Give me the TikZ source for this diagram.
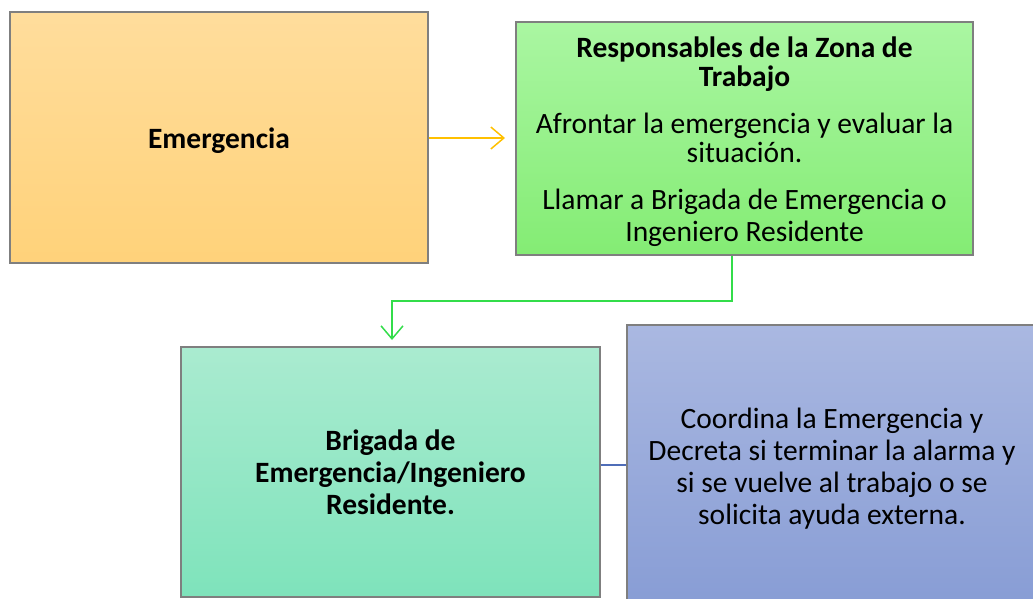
\documentclass[tikz,border=0pt]{standalone}
\usepackage{fontspec}
\setmainfont{Carlito}
\usetikzlibrary{arrows.meta}
\definecolor{orangeTop}{HTML}{FFDD9C}
\definecolor{orangeBot}{HTML}{FFD27A}
\definecolor{greenTop}{HTML}{AAF6A2}
\definecolor{greenBot}{HTML}{84EC74}
\definecolor{tealTop}{HTML}{AAEBD0}
\definecolor{tealBot}{HTML}{7EE3BB}
\definecolor{blueTop}{HTML}{AAB8E1}
\definecolor{blueBot}{HTML}{889DD5}
\definecolor{boxgray}{HTML}{7F7F7F}
\definecolor{lineOrange}{HTML}{FFC000}
\definecolor{lineGreen}{HTML}{33DD4A}
\definecolor{lineBlue}{HTML}{4F6DB8}
\tikzset{
  box/.style = {draw=boxgray, line width=1.2pt, align=center, inner sep=0pt, text centered},
  % top row: tighter lines
  box_E/.style = {box, top color=orangeTop, bottom color=orangeBot, font=\fontsize{29.5}{29.5}\selectfont},
  box_R/.style = {box, top color=greenTop, bottom color=greenBot, font=\fontsize{29.5}{29.5}\selectfont},
  % bottom row
  box_B/.style = {box, top color=tealTop, bottom color=tealBot, font=\fontsize{29.5}{32}\selectfont},
  box_C/.style = {box, top color=blueTop, bottom color=blueBot, font=\fontsize{29.5}{32}\selectfont},
  barb/.style = {-{Straight Barb[length=13pt,width=22pt,line width=1.5pt]}, line width=1.5pt}
}
\begin{document}
\begin{tikzpicture}[x=1pt,y=-1pt]
  \useasboundingbox (0,0) rectangle (1033,599);
  % Top row:
  \node [box_E, minimum width=418pt, minimum height=251pt] (emerg) at (219,137.5) {\rule{0pt}{26pt}\textbf{Emergencia}};
  \node [box_R, minimum width=457pt, minimum height=233pt] (resp) at (744.5,138.5)
    {\rule{0pt}{27pt}\textbf{Responsables de la Zona de}\\\textbf{Trabajo}\\[17pt]%
     Afrontar la emergencia y evaluar la\\situación.\\[17pt]%
     Llamar a Brigada de Emergencia o\\[2.5pt]Ingeniero Residente};
  % Bottom row:
  \node [box_B, minimum width=419pt, minimum height=250pt] (brig) at (390.5,472)
    {\textbf{Brigada de}\\\textbf{Emergencia/Ingeniero}\\\textbf{Residente.}};
  \node [box_C, minimum width=410pt, minimum height=278pt] (coord) at (832,464)
    {\rule{0pt}{30pt}Coordina la Emergencia y\\Decreta si terminar la alarma y\\si se vuelve al trabajo o se\\solicita ayuda externa.};
  % Connectors:
  \coordinate (emergTip) at (505,138);
  \coordinate (brigTip) at (392,340);
  \draw [barb, lineOrange] (emerg.east |- emergTip) -- (emergTip);
  \draw [barb, lineGreen] (resp.south -| 732,0) -- (732,301) -| (brigTip);
  \draw [lineBlue, line width=1.5pt] (brig.east |- 0,465) -- (coord.west |- 0,465);
\end{tikzpicture}
\end{document}
